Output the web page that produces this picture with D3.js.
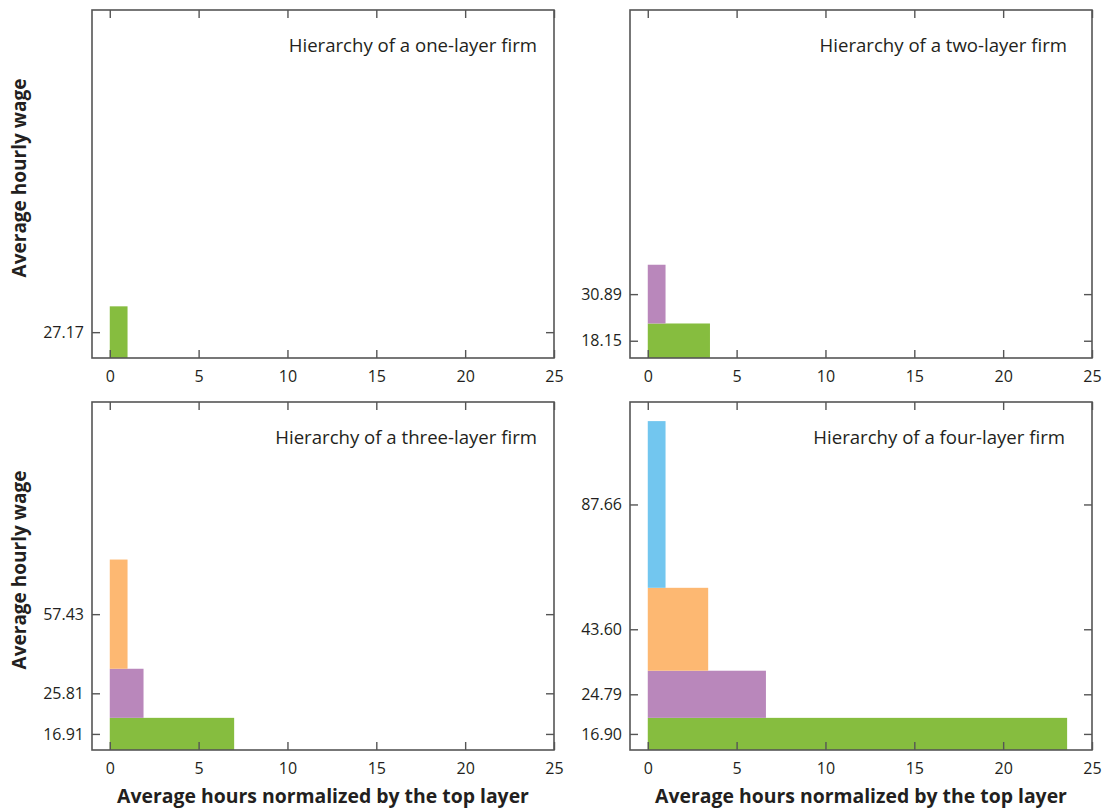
<!DOCTYPE html>
<html>
<head>
<meta charset="utf-8">
<script src="https://cdn.jsdelivr.net/npm/d3@7"></script>
<style>
  html, body { margin: 0; padding: 0; background: #fff; }
  svg text { font-family: "Open Sans", "Noto Sans", sans-serif; fill: #231f20; }
</style>
</head>
<body>
<svg id="chart" width="1104" height="810"></svg>
<script>
// ---- data (layers listed from bottom: most hours / lowest wage first) ----
const panelTitles = [
  "Hierarchy of a one-layer firm",
  "Hierarchy of a two-layer firm",
  "Hierarchy of a three-layer firm",
  "Hierarchy of a four-layer firm"
];
const wagesOne   = [27.17];
const hoursOne   = [1.0];
const wagesTwo   = [18.15, 30.89];
const hoursTwo   = [3.5, 1.0];
const wagesThree = [16.91, 25.81, 57.43];
const hoursThree = [7.0, 1.9, 1.0];
const wagesFour  = [16.90, 24.79, 43.60, 87.66];
const hoursFour  = [23.6, 6.65, 3.4, 1.0];
const xTicks = [0, 5, 10, 15, 20, 25];
const layerColors = ["#86bd3f", "#b987bb", "#fdb872", "#72c6ef"];
const yTitle = "Average hourly wage";
const xTitle = "Average hours normalized by the top layer";

const panels = [
  { wages: wagesOne,   hours: hoursOne,   title: panelTitles[0], left: 92,  top: 10,  titleRight: 537,  yLabel: true,  xLabel: false },
  { wages: wagesTwo,   hours: hoursTwo,   title: panelTitles[1], left: 630, top: 10,  titleRight: 1067, yLabel: false, xLabel: false },
  { wages: wagesThree, hours: hoursThree, title: panelTitles[2], left: 92,  top: 402, titleRight: 537,  yLabel: true,  xLabel: true },
  { wages: wagesFour,  hours: hoursFour,  title: panelTitles[3], left: 630, top: 402, titleRight: 1065, yLabel: false, xLabel: true }
];

const W = 462, H = 348;
const axisColor = "#555555";
const svg = d3.select("#chart");

panels.forEach(p => {
  const g = svg.append("g").attr("transform", `translate(${p.left},${p.top})`);
  const x = d3.scaleLinear().domain([-1, 25]).range([0, W]);
  const y = d3.scaleLinear().domain([0, 183]).range([H, 0]);

  // cumulative layer extents
  let cum = 0;
  const layers = p.wages.map((w, i) => {
    const d = { y0: cum, y1: cum + w, wage: w, hours: p.hours[i], i };
    cum += w;
    return d;
  });

  g.selectAll("rect.bar").data(layers).enter().append("rect")
    .attr("class", "bar")
    .attr("x", x(0))
    .attr("width", d => x(d.hours) - x(0))
    .attr("y", d => y(d.y1))
    .attr("height", d => y(d.y0) - y(d.y1))
    .attr("fill", d => layerColors[d.i]);

  const mids = layers.map(d => (d.y0 + d.y1) / 2);

  const styleAxis = sel => {
    sel.select(".domain").remove();
    sel.selectAll(".tick line").attr("stroke", axisColor).attr("stroke-width", 1.4);
    sel.selectAll(".tick text").style("font-size", "16px").attr("fill", "#231f20");
  };

  // bottom axis (ticks inward)
  const xb = g.append("g").attr("transform", `translate(0,${H})`)
    .call(d3.axisBottom(x).tickValues(xTicks).tickSize(-8).tickPadding(11).tickFormat(d3.format("d")));
  styleAxis(xb);
  xb.selectAll(".tick text").attr("y", 24).attr("dy", "0");
  // top axis
  const xt = g.append("g").call(d3.axisTop(x).tickValues(xTicks).tickSize(-8).tickFormat(""));
  styleAxis(xt);
  // left axis
  const yl = g.append("g")
    .call(d3.axisLeft(y).tickValues(mids).tickSize(-8).tickPadding(9).tickFormat((v, i) => layers[i].wage.toFixed(2)));
  styleAxis(yl);
  yl.selectAll(".tick text").attr("x", -8);
  // right axis
  const yr = g.append("g").attr("transform", `translate(${W},0)`)
    .call(d3.axisRight(y).tickValues(mids).tickSize(-8).tickFormat(""));
  styleAxis(yr);

  // frame
  g.append("rect").attr("x", 0).attr("y", 0).attr("width", W).attr("height", H)
    .attr("fill", "none").attr("stroke", axisColor).attr("stroke-width", 1.6);

  // title
  svg.append("text")
    .attr("x", p.titleRight).attr("y", p.top + 42)
    .attr("text-anchor", "end")
    .style("font-size", "18.6px")
    .text(p.title);

  if (p.yLabel) {
    svg.append("text")
      .attr("transform", `translate(26,${p.top + 168}) rotate(-90)`)
      .attr("text-anchor", "middle")
      .style("font-size", "19px").style("font-weight", "bold")
      .text(yTitle);
  }
  if (p.xLabel) {
    svg.append("text")
      .attr("x", p.left + W / 2).attr("y", 803)
      .attr("text-anchor", "middle")
      .style("font-size", "19.4px").style("font-weight", "bold")
      .text(xTitle);
  }
});
</script>
</body>
</html>
